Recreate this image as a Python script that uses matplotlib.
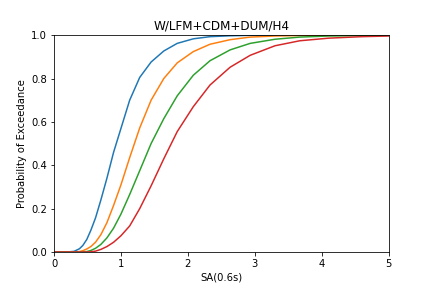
import matplotlib
matplotlib.use('Agg')
import matplotlib.pyplot as plt

# intensity levels, SA(0.6s) in g
sa = [0.02, 0.1, 0.2, 0.3, 0.38, 0.43, 0.49, 0.55, 0.62, 0.70, 0.79, 0.89,
      1.0, 1.13, 1.28, 1.45, 1.64, 1.84, 2.08, 2.33, 2.63, 2.93, 3.30, 3.67,
      4.10, 4.60, 5.0]

# probability of exceedance per damage state
ds1 = [0, 0, 0, 0.003, 0.015, 0.03, 0.058, 0.10, 0.157, 0.24, 0.34, 0.46,
       0.57, 0.70, 0.805, 0.876, 0.927, 0.962, 0.983, 0.993, 0.997, 0.999,
       1.0, 1.0, 1.0, 1.0, 1.0]
ds2 = [0, 0, 0, 0, 0.002, 0.006, 0.014, 0.025, 0.045, 0.08, 0.135, 0.215,
       0.31, 0.435, 0.572, 0.70, 0.80, 0.872, 0.924, 0.958, 0.979, 0.991,
       0.996, 0.998, 0.999, 1.0, 1.0]
ds3 = [0, 0, 0, 0, 0, 0.0005, 0.002, 0.007, 0.017, 0.035, 0.065, 0.11,
       0.175, 0.265, 0.375, 0.50, 0.615, 0.72, 0.815, 0.882, 0.932, 0.962,
       0.981, 0.991, 0.996, 0.998, 0.999]
ds4 = [0, 0, 0, 0, 0, 0, 0, 0.001, 0.004, 0.012, 0.025, 0.045,
       0.075, 0.12, 0.20, 0.305, 0.43, 0.555, 0.67, 0.77, 0.852, 0.907,
       0.951, 0.974, 0.986, 0.993, 0.996]

fig, ax = plt.subplots(figsize=(6, 4), dpi=72)
fig.subplots_adjust(left=0.125, right=0.9, bottom=0.125, top=0.878)

for curve in (ds1, ds2, ds3, ds4):
    ax.plot(sa, curve)

ax.set_xlim(0, 5)
ax.set_ylim(0, 1)
ax.set_title('W/LFM+CDM+DUM/H4')
ax.set_xlabel('SA(0.6s)')
ax.set_ylabel('Probability of Exceedance')

fig.savefig('out.png', dpi=72)
